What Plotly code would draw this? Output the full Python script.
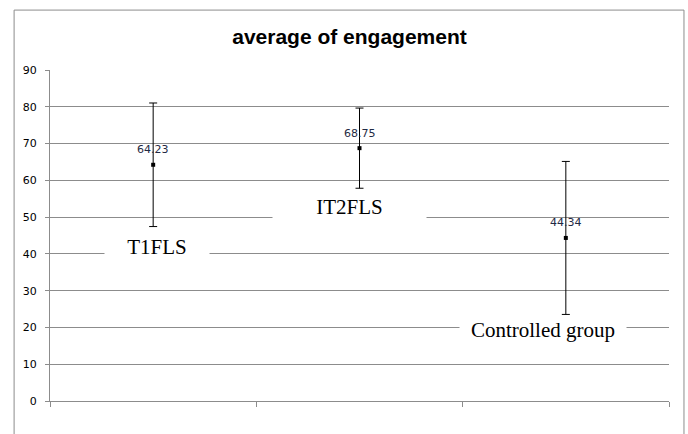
import plotly.graph_objects as go

# data
groups = ["T1FLS", "IT2FLS", "Controlled group"]
means = [64.23, 68.75, 44.34]
errors = [16.8, 10.9, 20.8]
value_text = ["64.23", "68.75", "44.34"]

# where the category captions sit (y value) and their horizontal nudge
label_y = [41.9, 52.7, 19.3]
label_shift = [4, -10, -23]
label_box = [102, 151, 164]

grid = "#8c8c8c"

fig = go.Figure()

fig.add_trace(go.Scatter(
    x=groups,
    y=means,
    mode="markers",
    marker=dict(symbol="square", size=4, color="black"),
    error_y=dict(type="data", array=errors, visible=True,
                 color="black", thickness=1, width=4),
    hoverinfo="skip",
))

# value labels above the points
for g, m, t in zip(groups, means, value_text):
    fig.add_annotation(
        x=g, y=m, text=t, showarrow=False, yshift=15,
        font=dict(family="DejaVu Sans", size=11, color="#1f2a44"),
    )

# category captions with white boxes that break the gridlines
for g, ly, sh, w in zip(groups, label_y, label_shift, label_box):
    fig.add_annotation(
        x=g, y=ly, text=g, showarrow=False, xshift=sh,
        width=w, height=24, bgcolor="white",
        font=dict(family="Liberation Serif", size=21, color="black"),
    )

# outer chart frame
fig.add_shape(
    type="rect", xref="paper", yref="paper",
    x0=-0.058, x1=1.0242, y0=-0.2, y1=1.181,
    line=dict(color=grid, width=1), fillcolor="rgba(0,0,0,0)",
    layer="below",
)

fig.update_layout(
    width=688, height=434,
    margin=dict(l=50, r=19, t=70, b=33),
    paper_bgcolor="white",
    plot_bgcolor="white",
    showlegend=False,
    title=dict(
        text="<b>average of engagement</b>",
        x=0.508, xanchor="center", y=1 - 37 / 434, yanchor="middle",
        font=dict(family="Liberation Sans", size=21, color="black"),
    ),
    xaxis=dict(
        type="category",
        showticklabels=False,
        showgrid=False,
        showline=True, linecolor=grid, linewidth=1,
        ticks="outside", tickson="boundaries", ticklen=5,
        tickcolor=grid,
        range=[-0.5, 2.5],
        zeroline=False,
    ),
    yaxis=dict(
        range=[0, 90],
        dtick=10,
        showgrid=True, gridcolor=grid, gridwidth=1,
        showline=True, linecolor=grid, linewidth=1,
        ticks="outside", ticklen=4, tickcolor=grid,
        ticklabelstandoff=6,
        tickfont=dict(family="DejaVu Sans", size=11, color="black"),
        zeroline=False,
    ),
)

fig.write_html("out.html", config={"displayModeBar": False},
               post_script="document.body.style.margin='0';")
